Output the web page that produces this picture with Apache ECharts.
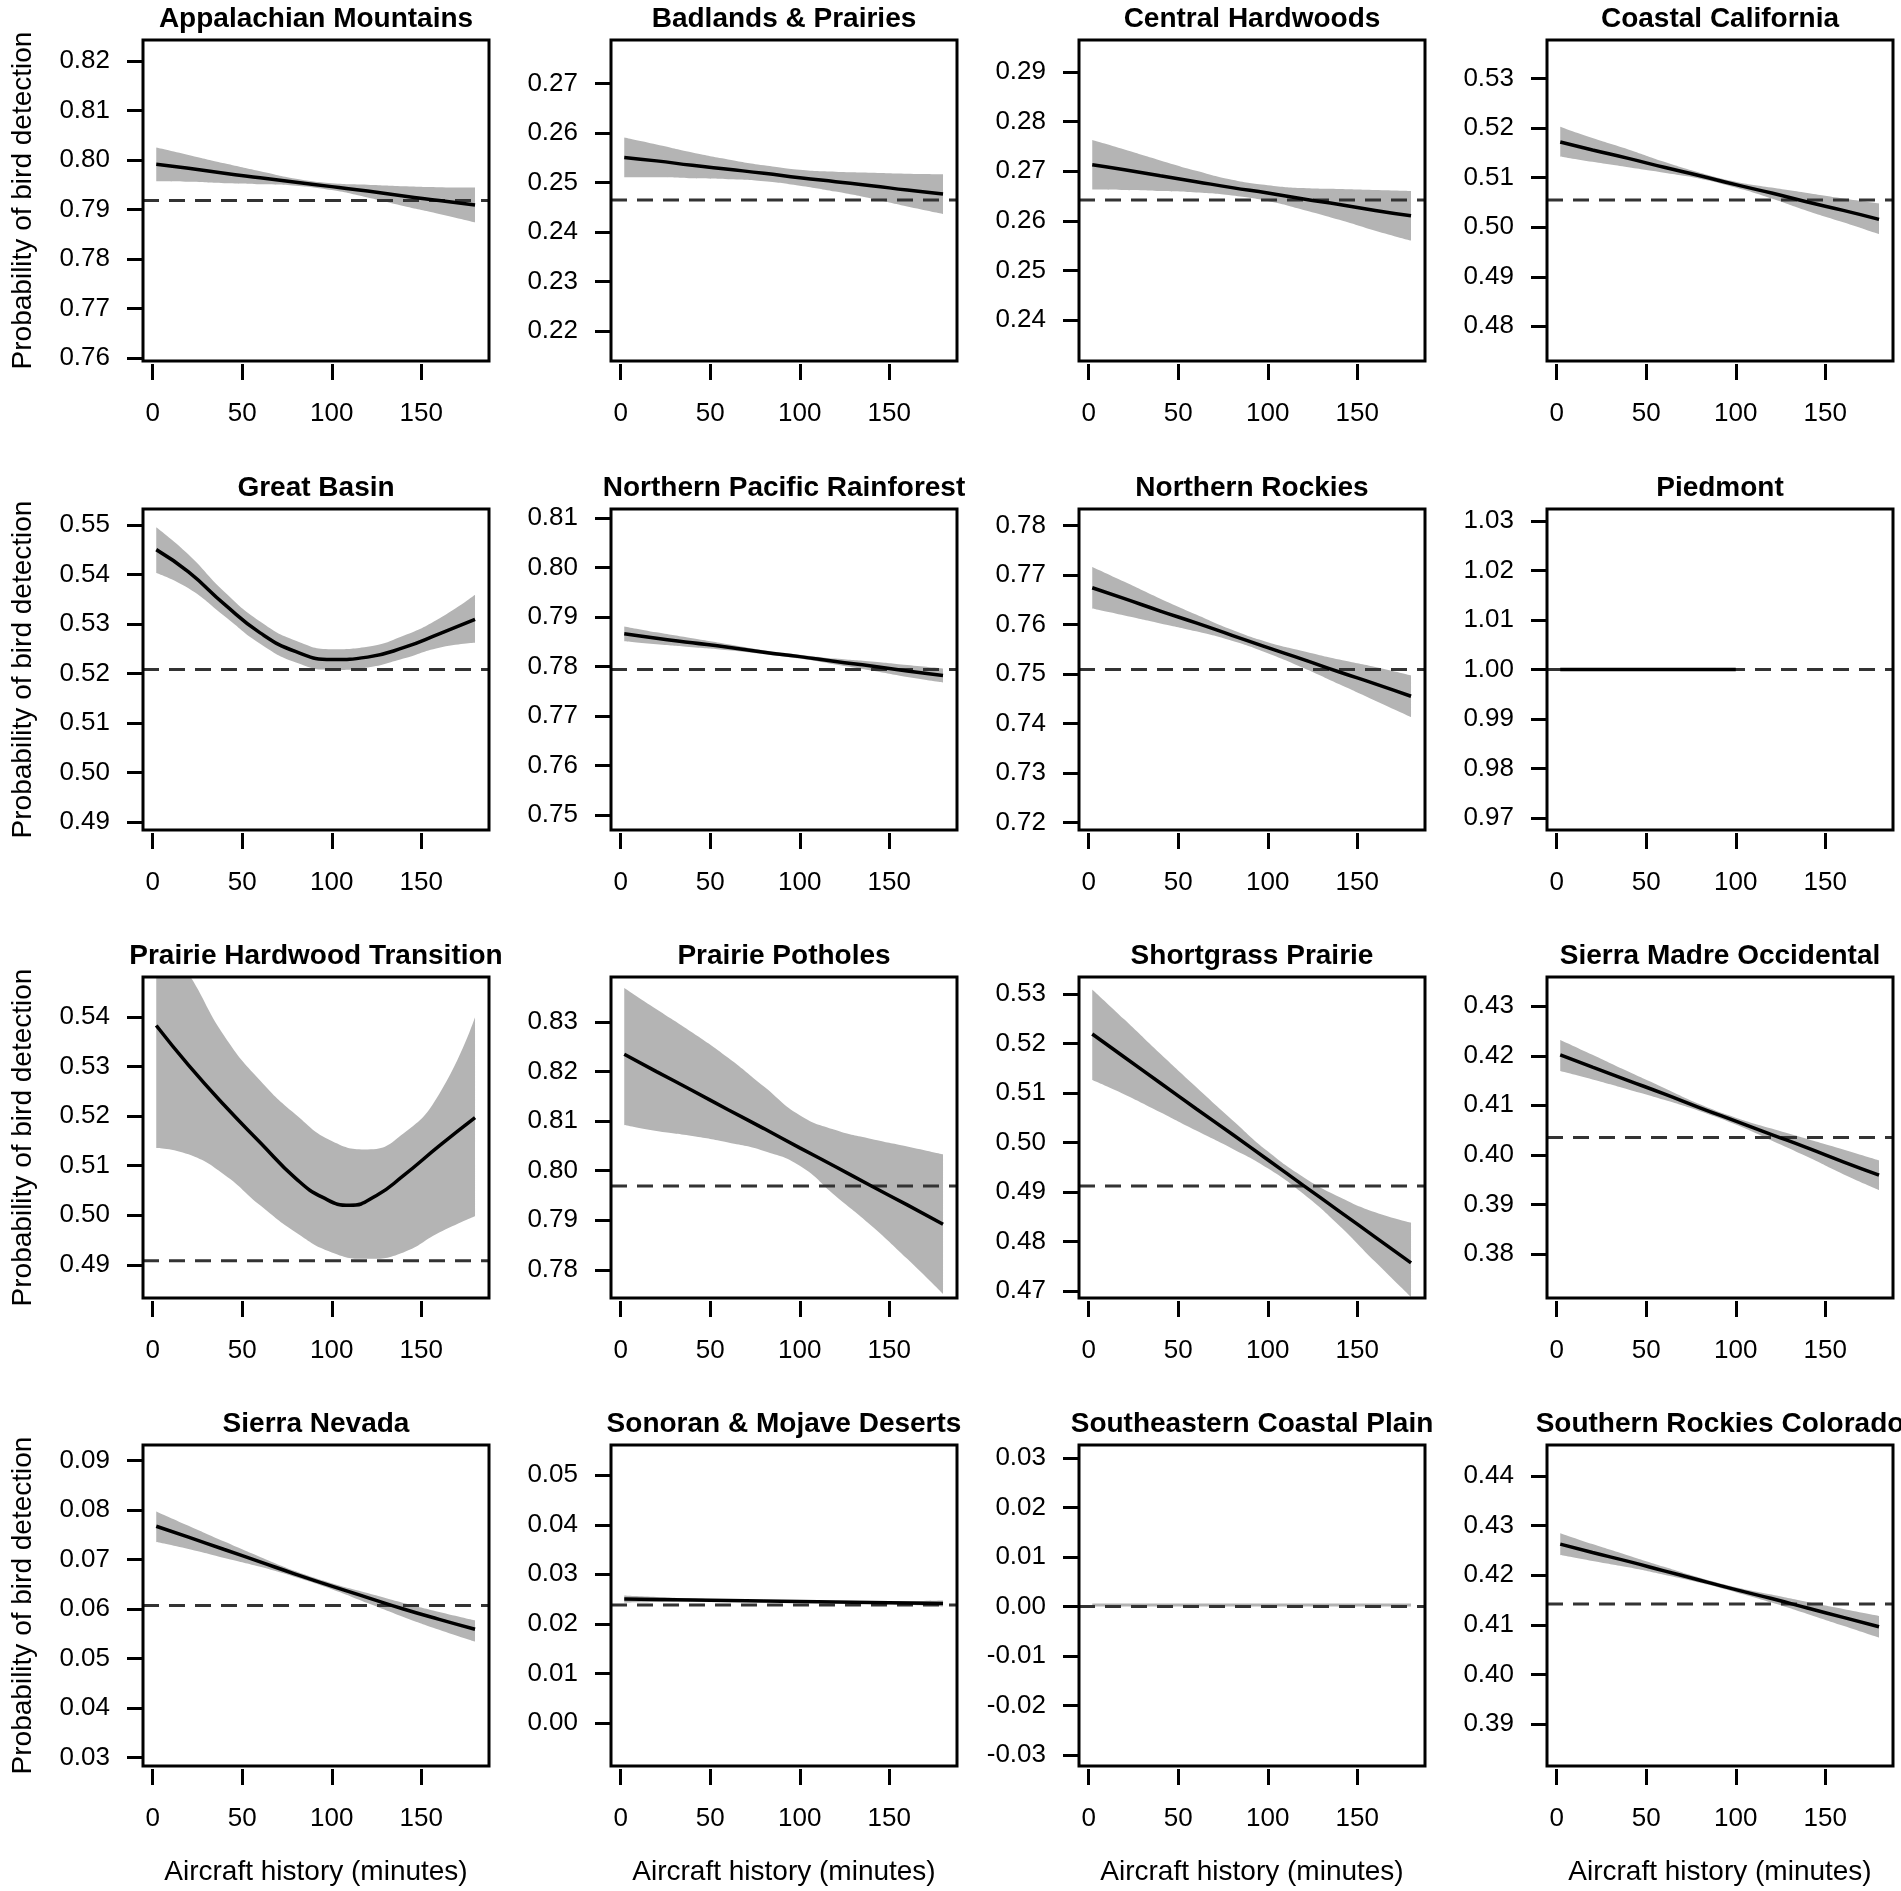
<!DOCTYPE html>
<html>
<head>
<meta charset="utf-8">
<script src="https://cdn.jsdelivr.net/npm/echarts@6/dist/echarts.min.js"></script>
<style>
  html, body { margin: 0; background: #fff; }
  #main { width: 1901px; height: 1891px; }
</style>
</head>
<body>
<div id="main"></div>
<script>
var regions = [
  "Appalachian Mountains", "Badlands & Prairies", "Central Hardwoods", "Coastal California",
  "Great Basin", "Northern Pacific Rainforest", "Northern Rockies", "Piedmont",
  "Prairie Hardwood Transition", "Prairie Potholes", "Shortgrass Prairie", "Sierra Madre Occidental",
  "Sierra Nevada", "Sonoran & Mojave Deserts", "Southeastern Coastal Plain", "Southern Rockies Colorado"
];

// minutes of aircraft history where the curves were read
var xPts = [2, 20, 40, 60, 80, 100, 120, 140, 160, 180];
// Prairie Hardwood Transition fit was read more finely around its minimum
var xPtsPHT = [2, 20, 40, 60, 80, 95, 110, 125, 140, 160, 180];
var xTicks = [0, 50, 100, 150];

// fitted probability of detection (null = no fitted line drawn)
var fit = [
  [0.7991, 0.7983, 0.7973, 0.7964, 0.7955, 0.7946, 0.7937, 0.7927, 0.7918, 0.7909],
  [0.2551, 0.2544, 0.2535, 0.2527, 0.2519, 0.2510, 0.2502, 0.2494, 0.2485, 0.2477],
  [0.2713, 0.2703, 0.2691, 0.2679, 0.2667, 0.2656, 0.2644, 0.2633, 0.2621, 0.2610],
  [0.5172, 0.5156, 0.5139, 0.5121, 0.5104, 0.5086, 0.5069, 0.5051, 0.5034, 0.5016],
  [0.5450, 0.5405, 0.5340, 0.5282, 0.5244, 0.5228, 0.5233, 0.5252, 0.5280, 0.5309],
  [0.7866, 0.7857, 0.7848, 0.7839, 0.7829, 0.7820, 0.7810, 0.7801, 0.7791, 0.7782],
  [0.7674, 0.7652, 0.7627, 0.7603, 0.7578, 0.7553, 0.7529, 0.7504, 0.7480, 0.7455],
  [1.0000, 1.0000, 1.0000, 1.0000, 1.0000, 1.0000, null, null, null, null],
  [0.5383, 0.5303, 0.5222, 0.5147, 0.5074, 0.5036, 0.5020, 0.5040, 0.5080, 0.5140, 0.5197],
  [0.8235, 0.8200, 0.8162, 0.8123, 0.8085, 0.8046, 0.8008, 0.7969, 0.7931, 0.7892],
  [0.5219, 0.5172, 0.5120, 0.5068, 0.5017, 0.4965, 0.4913, 0.4861, 0.4809, 0.4757],
  [0.4202, 0.4177, 0.4150, 0.4123, 0.4095, 0.4068, 0.4041, 0.4014, 0.3986, 0.3959],
  [0.0767, 0.0745, 0.0720, 0.0695, 0.0670, 0.0646, 0.0623, 0.0600, 0.0579, 0.0559],
  [0.0250, 0.0249, 0.0248, 0.0247, 0.0246, 0.0245, 0.0244, 0.0243, 0.0242, 0.0241],
  null,
  [0.4263, 0.4246, 0.4228, 0.4209, 0.4190, 0.4171, 0.4153, 0.4134, 0.4115, 0.4096]
];

// confidence band, upper edge (null = no band drawn)
var upper = [
  [0.8025, 0.8010, 0.7993, 0.7977, 0.7962, 0.7953, 0.7950, 0.7947, 0.7945, 0.7944],
  [0.2591, 0.2577, 0.2561, 0.2547, 0.2535, 0.2526, 0.2522, 0.2520, 0.2518, 0.2517],
  [0.2763, 0.2744, 0.2722, 0.2701, 0.2683, 0.2672, 0.2666, 0.2664, 0.2662, 0.2660],
  [0.5203, 0.5180, 0.5157, 0.5132, 0.5110, 0.5092, 0.5080, 0.5069, 0.5058, 0.5048],
  [0.5495, 0.5440, 0.5365, 0.5305, 0.5266, 0.5249, 0.5254, 0.5276, 0.5311, 0.5359],
  [0.7881, 0.7869, 0.7857, 0.7845, 0.7833, 0.7824, 0.7816, 0.7810, 0.7803, 0.7796],
  [0.7716, 0.7686, 0.7652, 0.7620, 0.7589, 0.7564, 0.7546, 0.7529, 0.7514, 0.7497],
  null,
  [0.5580, 0.5488, 0.5362, 0.5272, 0.5203, 0.5150, 0.5133, 0.5165, 0.5245, 0.5400],
  [0.8369, 0.8326, 0.8279, 0.8228, 0.8170, 0.8112, 0.8082, 0.8064, 0.8049, 0.8033],
  [0.5309, 0.5248, 0.5179, 0.5112, 0.5046, 0.4982, 0.4930, 0.4890, 0.4859, 0.4838],
  [0.4232, 0.4202, 0.4168, 0.4135, 0.4102, 0.4075, 0.4053, 0.4032, 0.4011, 0.3989],
  [0.0797, 0.0768, 0.0736, 0.0705, 0.0676, 0.0652, 0.0632, 0.0612, 0.0594, 0.0577],
  [0.0257, 0.0254, 0.0251, 0.0249, 0.0248, 0.0247, 0.0246, 0.0246, 0.0246, 0.0247],
  [0.0003, 0.0003, 0.0003, 0.0003, 0.0003, 0.0003, 0.0003, 0.0003, 0.0003, 0.0003],
  [0.4285, 0.4263, 0.4240, 0.4217, 0.4195, 0.4176, 0.4161, 0.4146, 0.4132, 0.4118]
];

// confidence band, lower edge
var lower = [
  [0.7957, 0.7956, 0.7953, 0.7951, 0.7948, 0.7939, 0.7924, 0.7907, 0.7891, 0.7874],
  [0.2511, 0.2511, 0.2509, 0.2507, 0.2503, 0.2494, 0.2482, 0.2468, 0.2452, 0.2437],
  [0.2663, 0.2662, 0.2660, 0.2657, 0.2651, 0.2640, 0.2622, 0.2602, 0.2580, 0.2560],
  [0.5143, 0.5132, 0.5121, 0.5110, 0.5098, 0.5080, 0.5058, 0.5033, 0.5010, 0.4986],
  [0.5403, 0.5372, 0.5316, 0.5260, 0.5222, 0.5207, 0.5212, 0.5230, 0.5252, 0.5262],
  [0.7851, 0.7845, 0.7839, 0.7833, 0.7825, 0.7816, 0.7804, 0.7792, 0.7779, 0.7768],
  [0.7632, 0.7618, 0.7602, 0.7586, 0.7567, 0.7542, 0.7512, 0.7479, 0.7446, 0.7413],
  null,
  [0.5136, 0.5123, 0.5082, 0.5020, 0.4965, 0.4925, 0.4912, 0.4925, 0.4965, 0.4998],
  [0.8092, 0.8080, 0.8070, 0.8057, 0.8040, 0.8010, 0.7949, 0.7889, 0.7822, 0.7751],
  [0.5126, 0.5097, 0.5061, 0.5024, 0.4988, 0.4948, 0.4896, 0.4832, 0.4759, 0.4688],
  [0.4169, 0.4152, 0.4132, 0.4111, 0.4088, 0.4061, 0.4029, 0.3996, 0.3961, 0.3929],
  [0.0735, 0.0721, 0.0703, 0.0685, 0.0664, 0.0640, 0.0612, 0.0584, 0.0558, 0.0534],
  [0.0243, 0.0244, 0.0245, 0.0245, 0.0244, 0.0243, 0.0242, 0.0240, 0.0238, 0.0235],
  [-0.0003, -0.0003, -0.0003, -0.0003, -0.0003, -0.0003, -0.0003, -0.0003, -0.0003, -0.0003],
  [0.4241, 0.4229, 0.4216, 0.4201, 0.4185, 0.4166, 0.4145, 0.4122, 0.4098, 0.4074]
];

// dashed reference level
var baseline = [0.7918, 0.2465, 0.2642, 0.5055, 0.5208, 0.7794, 0.7509, 1.0000,
                0.4908, 0.7969, 0.4912, 0.4035, 0.0607, 0.0238, 0.0000, 0.4142];

// y axis extent of each panel
var yRange = [
  [0.7594, 0.8242], [0.2140, 0.2788], [0.2317, 0.2965], [0.4730, 0.5378],
  [0.4884, 0.5532], [0.7470, 0.8118], [0.7185, 0.7833], [0.9676, 1.0324],
  [0.4833, 0.5481], [0.7743, 0.8391], [0.4686, 0.5334], [0.3711, 0.4359],
  [0.0283, 0.0931], [-0.0087, 0.0561], [-0.0322, 0.0326], [0.3815, 0.4463]
];
var xRange = [-5.4, 187.8];

var yTicks = [
  [0.76, 0.77, 0.78, 0.79, 0.80, 0.81, 0.82],
  [0.22, 0.23, 0.24, 0.25, 0.26, 0.27],
  [0.24, 0.25, 0.26, 0.27, 0.28, 0.29],
  [0.48, 0.49, 0.50, 0.51, 0.52, 0.53],
  [0.49, 0.50, 0.51, 0.52, 0.53, 0.54, 0.55],
  [0.75, 0.76, 0.77, 0.78, 0.79, 0.80, 0.81],
  [0.72, 0.73, 0.74, 0.75, 0.76, 0.77, 0.78],
  [0.97, 0.98, 0.99, 1.00, 1.01, 1.02, 1.03],
  [0.49, 0.50, 0.51, 0.52, 0.53, 0.54],
  [0.78, 0.79, 0.80, 0.81, 0.82, 0.83],
  [0.47, 0.48, 0.49, 0.50, 0.51, 0.52, 0.53],
  [0.38, 0.39, 0.40, 0.41, 0.42, 0.43],
  [0.03, 0.04, 0.05, 0.06, 0.07, 0.08, 0.09],
  [0.00, 0.01, 0.02, 0.03, 0.04, 0.05],
  [-0.03, -0.02, -0.01, 0.00, 0.01, 0.02, 0.03],
  [0.39, 0.40, 0.41, 0.42, 0.43, 0.44]
];

var colLeft = [143, 611, 1079, 1547];
var rowTop = [40, 509, 977, 1445];
var boxW = 346, boxH = 321;
var font = "'Liberation Sans', Arial, Helvetica, sans-serif";
var bandColor = "#b4b4b4";
var smoothness = 0.5;

function pairs(xs, ys) {
  return xs.map(function(x, k) {
    return [x, ys[k]];
  });
}
// value first, minutes second: lets the band stack on the y dimension
function valueFirst(xs, ys) {
  return xs.map(function(x, k) {
    return [ys[k], x];
  });
}

var grids = [], xAxes = [], yAxes = [], titles = [], series = [];

regions.forEach(function(name, i) {
  var r = Math.floor(i / 4), c = i % 4;
  // z above the series so the box frame stays on top of the band
  grids.push({
    left: colLeft[c], top: rowTop[r], width: boxW, height: boxH, z: 10,
    show: true, borderColor: "#000", borderWidth: 3, backgroundColor: "transparent"
  });
  titles.push({
    text: name,
    left: colLeft[c] + boxW / 2,
    top: rowTop[r] - 35,
    textAlign: "center",
    padding: 0,
    textStyle: { fontFamily: font, fontSize: 28, fontWeight: "bold", color: "#000" }
  });
  xAxes.push({
    type: "value", gridIndex: i, min: xRange[0], max: xRange[1],
    offset: 3,
    axisLine: { show: false, onZero: false },
    splitLine: { show: false },
    axisTick: { show: true, length: 16, customValues: xTicks, lineStyle: { color: "#000", width: 3 } },
    axisLabel: { customValues: xTicks, margin: 37, fontFamily: font, fontSize: 26, color: "#000" },
    name: r === 3 ? "Aircraft history (minutes)" : "",
    nameLocation: "middle",
    nameGap: 89,
    nameTextStyle: { fontFamily: font, fontSize: 28, color: "#000" }
  });
  yAxes.push({
    type: "value", gridIndex: i, min: yRange[i][0], max: yRange[i][1],
    axisLine: { show: false, onZero: false },
    splitLine: { show: false },
    axisTick: { show: true, length: 16, customValues: yTicks[i], lineStyle: { color: "#000", width: 3 } },
    axisLabel: {
      customValues: yTicks[i], margin: 33, fontFamily: font, fontSize: 26, color: "#000",
      formatter: function(v) { return v.toFixed(2); }
    },
    name: c === 0 ? "Probability of bird detection" : "",
    nameLocation: "middle",
    nameRotate: 90,
    nameGap: 106,
    nameTextStyle: { fontFamily: font, fontSize: 28, color: "#000" }
  });

  if (upper[i]) {
    var width = upper[i].map(function(u, k) {
      return +(u - lower[i][k]).toFixed(4);
    });
    // band = invisible lower edge + stacked band width with grey fill
    series.push({
      type: "line", xAxisIndex: i, yAxisIndex: i, stack: "band" + i,
      data: valueFirst(xPts, lower[i]), encode: { x: 1, y: 0 },
      smooth: smoothness, symbol: "none", silent: true,
      lineStyle: { width: 0, opacity: 0 }
    });
    series.push({
      type: "line", xAxisIndex: i, yAxisIndex: i, stack: "band" + i,
      data: valueFirst(xPts, width), encode: { x: 1, y: 0 },
      smooth: smoothness, symbol: "none", silent: true,
      lineStyle: { width: 0, opacity: 0 },
      areaStyle: { color: bandColor, opacity: 1 }
    });
  }
  series.push({
    type: "line", xAxisIndex: i, yAxisIndex: i,
    data: [[xRange[0], baseline[i]], [xRange[1], baseline[i]]],
    symbol: "none", silent: true,
    lineStyle: { color: "#333", width: 3, type: [16, 10] }
  });
  if (fit[i]) {
    var fx = fit[i].length === xPtsPHT.length ? xPtsPHT : xPts;
    series.push({
      type: "line", xAxisIndex: i, yAxisIndex: i,
      data: pairs(fx, fit[i]), smooth: smoothness, symbol: "none", silent: true,
      lineStyle: { color: "#000", width: 3.5 }
    });
  }
});

var chart = echarts.init(document.getElementById("main"));
chart.setOption({
  animation: false,
  backgroundColor: "#fff",
  title: titles,
  grid: grids,
  xAxis: xAxes,
  yAxis: yAxes,
  series: series
});
</script>
</body>
</html>
